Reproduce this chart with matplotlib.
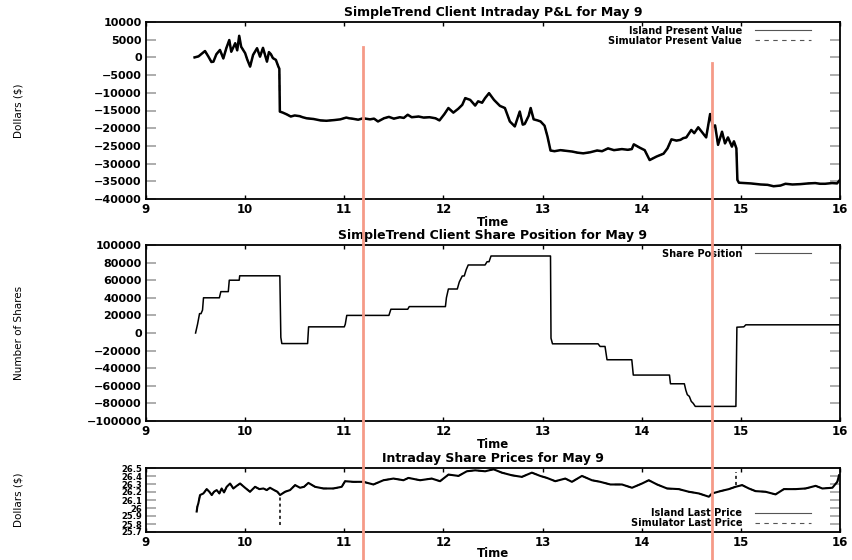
import numpy as np
import matplotlib
matplotlib.use("Agg")
import matplotlib.pyplot as plt
from matplotlib.lines import Line2D
from matplotlib.ticker import FuncFormatter, MultipleLocator
from matplotlib.transforms import blended_transform_factory

OUT = "out.png"

# P&L (dollars)
pnl_t = [9.49, 9.53, 9.56, 9.595, 9.63, 9.66, 9.68, 9.71, 9.746, 9.78, 9.81, 9.84, 9.86, 9.90,
         9.92, 9.94, 9.96, 10.00, 10.02, 10.05, 10.08, 10.12, 10.15, 10.18, 10.22, 10.24, 10.26,
         10.28, 10.31, 10.335, 10.345, 10.35, 10.38, 10.42, 10.46, 10.50, 10.55, 10.58, 10.62,
         10.69, 10.76, 10.82, 10.90, 10.96, 11.02, 11.05, 11.08, 11.14, 11.19, 11.26, 11.30,
         11.34, 11.40, 11.45, 11.50, 11.56, 11.60, 11.64, 11.68, 11.75, 11.80, 11.86, 11.92,
         11.96, 12.01, 12.05, 12.10, 12.15, 12.19, 12.22, 12.27, 12.32, 12.35, 12.39, 12.42,
         12.46, 12.51, 12.57, 12.62, 12.67, 12.72, 12.75, 12.77, 12.80, 12.82, 12.86, 12.88,
         12.91, 12.95, 12.98, 13.02, 13.05, 13.08, 13.12, 13.18, 13.24, 13.30, 13.35, 13.41,
         13.48, 13.55, 13.60, 13.66, 13.72, 13.80, 13.86, 13.90, 13.92, 13.98, 14.03, 14.08,
         14.15, 14.22, 14.26, 14.30, 14.35, 14.39, 14.42, 14.45, 14.50, 14.53, 14.57, 14.60,
         14.65, 14.69, 14.72, 14.74, 14.77, 14.81, 14.84, 14.87, 14.91, 14.93, 14.955, 14.965,
         14.98, 15.05, 15.10, 15.20, 15.27, 15.33, 15.40, 15.45, 15.52, 15.60, 15.68, 15.75,
         15.80, 15.85, 15.92, 15.97, 16.00]
pnl_v = [0, 300, 1000, 1800, 200, -1300, -1200, 900, 2100, -300, 2600, 4900, 1600, 4000,
         2000, 6100, 3000, 1200, -500, -2600, 700, 2600, 200, 2700, -1200, 1500, 900,
         -200, -700, -2600, -3200, -15300, -15600, -16100, -16700, -16400, -16600, -16900, -17200,
         -17400, -17800, -17900, -17700, -17500, -17000, -17200, -17300, -17600, -17200, -17500, -17300,
         -18100, -17200, -16800, -17300, -16900, -17100, -16200, -16900, -16700, -17000, -16900, -17200,
         -17800, -16000, -14300, -15600, -14500, -13400, -11500, -12000, -13600, -12400, -12800, -11500,
         -10100, -12000, -13700, -14300, -18100, -19500, -17000, -15300, -19000, -18800, -16500, -14300,
         -17500, -17800, -18100, -19300, -22400, -26300, -26500, -26200, -26400, -26600, -26900, -27100,
         -26800, -26300, -26500, -25700, -26200, -25900, -26100, -25900, -24550, -25500, -26200, -29000,
         -28000, -27200, -25700, -23150, -23500, -23300, -22800, -22600, -20500, -21400, -19750, -20800,
         -22600, -16000, -19600, -19200, -24700, -21000, -24300, -22600, -25200, -23700, -25700, -34600,
         -35400, -35500, -35600, -35900, -36000, -36400, -36200, -35700, -35900, -35800, -35600, -35500,
         -35700, -35700, -35500, -35600, -34600]

# share position
pos_t = [9.50, 9.52, 9.54, 9.555, 9.57, 9.58, 9.74, 9.755, 9.83, 9.84, 9.94, 9.945, 10.35,
         10.36, 10.37, 10.63, 10.64, 11.00, 11.01, 11.025, 11.45, 11.47, 11.64, 11.655, 12.02,
         12.03, 12.05, 12.14, 12.16, 12.19, 12.21, 12.23, 12.25, 12.42, 12.44, 12.46, 12.48,
         13.08, 13.085, 13.10, 13.56, 13.58, 13.63, 13.65, 13.90, 13.915, 14.28, 14.29, 14.43,
         14.445, 14.46, 14.48, 14.50, 14.52, 14.54, 14.95, 14.96, 15.03, 15.05, 16.00]
pos_v = [0, 10000, 22000, 22000, 26000, 40000, 40000, 47000, 47000, 60000, 60000, 65000, 65000,
         -5000, -12000, -12000, 7000, 7000, 10000, 20000, 20000, 27000, 27000, 30000, 30000,
         40000, 50000, 50000, 58000, 64800, 64800, 72000, 77300, 77300, 81000, 81000, 87500,
         87500, -5900, -12300, -12300, -15300, -15300, -30400, -30400, -47800, -47800, -57700, -57700,
         -65000, -70100, -72000, -77700, -80000, -83400, -83400, 6600, 7000, 9300, 9300]

# last prices
px_t = [9.511, 9.518, 9.528, 9.545, 9.579, 9.612, 9.639, 9.663, 9.686, 9.713, 9.740, 9.763,
        9.787, 9.814, 9.848, 9.881, 9.915, 9.949, 9.999, 10.049, 10.100, 10.144, 10.184, 10.218,
        10.251, 10.292, 10.325, 10.352, 10.403, 10.453, 10.504, 10.554, 10.594, 10.638, 10.705,
        10.789, 10.890, 10.974, 11.008, 11.092, 11.193, 11.294, 11.395, 11.496, 11.597, 11.647,
        11.765, 11.882, 11.966, 12.051, 12.152, 12.236, 12.320, 12.421, 12.505, 12.589, 12.690,
        12.791, 12.892, 12.976, 13.044, 13.128, 13.229, 13.296, 13.397, 13.498, 13.582, 13.684,
        13.801, 13.902, 14.003, 14.071, 14.155, 14.256, 14.374, 14.475, 14.576, 14.677, 14.710,
        14.795, 14.879, 14.946, 15.013, 15.081, 15.148, 15.249, 15.350, 15.434, 15.552, 15.653,
        15.754, 15.822, 15.923, 15.973, 15.990]
px_v = [25.956, 26.017, 26.059, 26.162, 26.182, 26.236, 26.203, 26.162, 26.203, 26.224, 26.182, 26.244,
        26.195, 26.265, 26.306, 26.244, 26.277, 26.306, 26.253, 26.203, 26.265, 26.236, 26.244, 26.224,
        26.253, 26.224, 26.203, 26.162, 26.203, 26.224, 26.286, 26.253, 26.265, 26.314, 26.265,
        26.244, 26.244, 26.265, 26.335, 26.327, 26.327, 26.294, 26.347, 26.368, 26.347, 26.376,
        26.347, 26.368, 26.335, 26.418, 26.401, 26.459, 26.471, 26.459, 26.484, 26.442, 26.409,
        26.389, 26.442, 26.401, 26.376, 26.335, 26.368, 26.327, 26.401, 26.347, 26.327, 26.294,
        26.294, 26.253, 26.306, 26.347, 26.294, 26.244, 26.236, 26.203, 26.182, 26.141, 26.182,
        26.211, 26.236, 26.265, 26.286, 26.244, 26.211, 26.203, 26.170, 26.236, 26.236, 26.244,
        26.277, 26.244, 26.253, 26.327, 26.409]

# simulator spikes that differ from the island price: (time, low, high)
sim_spike_t = [10.352, 14.946]
sim_spike_lo = [25.79, 26.29]
sim_spike_hi = [26.162, 26.45]

# marker times (red vertical lines)
marker_t = [11.19, 14.706]

RED = "#f59a88"
TICKGRAY = "#a0a0a0"
plt.rcParams["font.family"] = "DejaVu Sans"
plt.rcParams["font.weight"] = "bold"

fig = plt.figure(figsize=(8.52, 5.6), dpi=100)
W, H = 852.0, 560.0


def make_axes(top, bottom):
    return fig.add_axes([146 / W, 1 - bottom / H, (840 - 146) / W, (bottom - top) / H])


ax1 = make_axes(22, 199)
ax2 = make_axes(245, 421)
ax3 = make_axes(468, 532)


def style(ax, title, ylabel, fs, xlpad=0):
    ax.set_xlim(9, 16)
    ax.xaxis.set_major_locator(MultipleLocator(1))
    ax.tick_params(axis="x", direction="in", top=True, bottom=True, length=3, width=1,
                   labelsize=8.5, pad=3, color="black")
    ax.tick_params(axis="y", direction="in", left=True, right=True, length=7.5, width=1.2,
                   labelsize=fs, pad=3, color=TICKGRAY)
    for lab in ax.get_xticklabels() + ax.get_yticklabels():
        lab.set_fontweight("bold")
    for s in ax.spines.values():
        s.set_linewidth(1.3)
    ax.set_title(title, fontsize=9, fontweight="bold", pad=4)
    ax.set_xlabel("Time", fontsize=8.5, fontweight="bold", labelpad=xlpad)
    ax.set_ylabel(ylabel, fontsize=7.5, fontweight="normal",
                  family=["Liberation Sans Narrow", "DejaVu Sans Condensed", "DejaVu Sans"])
    ax.yaxis.set_label_coords(-0.176, 0.5)


# top: P&L
ax1.plot(pnl_t, pnl_v, color="black", lw=1.8, label="Island Present Value")
ax1.plot(pnl_t, pnl_v, color="black", lw=1.0, ls=(0, (4, 4)), label="Simulator Present Value")
ax1.set_ylim(-40000, 10000)
ax1.yaxis.set_major_locator(MultipleLocator(5000))
style(ax1, "SimpleTrend Client Intraday P&L for May 9", "Dollars ($)", 8)

# middle: share position
ax2.plot(pos_t, pos_v, color="black", lw=1.1, label="Share Position")
ax2.set_ylim(-100000, 100000)
ax2.yaxis.set_major_locator(MultipleLocator(20000))
style(ax2, "SimpleTrend Client Share Position for May 9", "Number of Shares", 8)

# bottom: prices
ax3.plot(px_t, px_v, color="black", lw=1.5, label="Island Last Price")
ax3.plot(px_t, px_v, color="black", lw=1.0, ls=(0, (4, 4)), label="Simulator Last Price")
ax3.vlines(sim_spike_t, sim_spike_lo, sim_spike_hi, colors="black", lw=1.1, linestyles=(0, (2, 2)))
ax3.set_ylim(25.7, 26.5)
ax3.yaxis.set_major_locator(MultipleLocator(0.1))
ax3.yaxis.set_major_formatter(FuncFormatter(lambda v, p: "%g" % round(v, 1)))
style(ax3, "Intraday Share Prices for May 9", "Dollars ($)", 6, xlpad=-1.5)

leg_kw = dict(frameon=False, markerfirst=False, handlelength=5.8, handletextpad=1.3,
              labelspacing=0.0, borderaxespad=0.0,
              prop=dict(weight="bold", size=7))
xr = 1 - 25 / 694.0
for ax, loc, anchor in ((ax1, "upper right", (xr, 1.0)),
                        (ax2, "upper right", (xr, 1.0)),
                        (ax3, "lower right", (xr, 0.0))):
    leg = ax.legend(loc=loc, bbox_to_anchor=anchor, **leg_kw)
    for h in leg.get_lines():
        h.set_linewidth(0.8)
        h.set_color("#555555")

# red markers spanning the whole figure below their start
marker_top = [1 - 47 / H, 1 - 63 / H]
for t, y1 in zip(marker_t, marker_top):
    tr = blended_transform_factory(ax1.transData, fig.transFigure)
    fig.add_artist(Line2D([t, t], [0, y1], transform=tr, color=RED, lw=2, zorder=10))

fig.savefig(OUT, dpi=100)
